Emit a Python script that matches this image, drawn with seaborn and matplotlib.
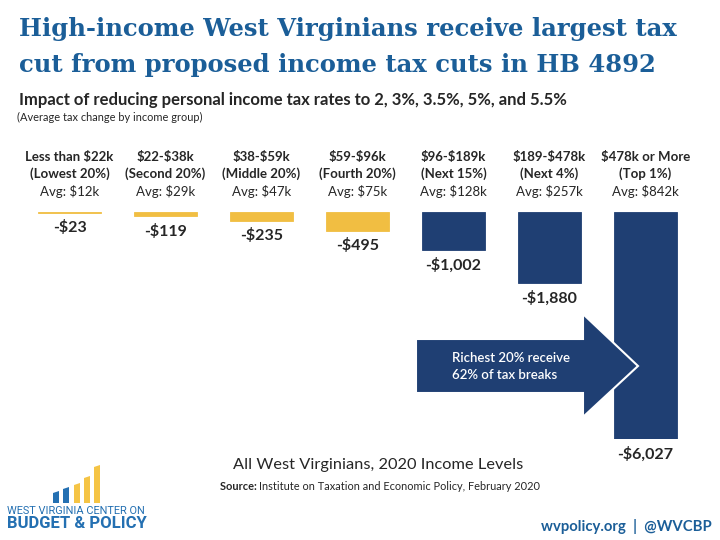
import matplotlib
matplotlib.use("Agg")
import matplotlib.pyplot as plt
from matplotlib.patches import Polygon
import pandas as pd
import seaborn as sns

# Dữ liệu
ranges = ["Less than $22k", "$22-$38k", "$38-$59k", "$59-$96k",
          "$96-$189k", "$189-$478k", "$478k or More"]
groups = ["(Lowest 20%)", "(Second 20%)", "(Middle 20%)", "(Fourth 20%)",
          "(Next 15%)", "(Next 4%)", "(Top 1%)"]
avgs = ["Avg: $12k", "Avg: $29k", "Avg: $47k", "Avg: $75k",
        "Avg: $128k", "Avg: $257k", "Avg: $842k"]
changes = [-23, -119, -235, -495, -1002, -1880, -6027]
colors = ["#F1BE42"] * 4 + ["#1F3F73"] * 3

df = pd.DataFrame({"group": ranges, "change": changes})

W, H = 720, 540
TITLE_BLUE = "#1B5E98"
LOGO_BLUE = "#2470B2"
LOGO_YELLOW = "#F5C445"

sns.set_style("white")
plt.rcParams["font.family"] = ["Lato", "DejaVu Sans"]

fig = plt.figure(figsize=(7.2, 5.4), dpi=100)
fig.patch.set_facecolor("white")


def fx(px):
    return px / W


def fy(py):
    return 1 - py / H


# trục chính: 0 ở pixel 212, -6027 ở pixel 439
top_px, bot_px = 212, 439
ax = fig.add_axes([fx(21.5), fy(bot_px), 672 / W, (bot_px - top_px) / H])
sns.barplot(data=df, x="group", y="change", hue="group", palette=colors,
            legend=False, width=0.66, saturation=1, ax=ax)
# viền cùng màu để cột -23 vẫn hiện thành một vạch mảnh
for p, c in zip(ax.patches, colors):
    p.set_edgecolor(c)
    p.set_linewidth(0.6)
ax.set_xlim(-0.5, 6.5)
ax.set_ylim(min(changes), 0)
ax.axis("off")

for i in range(len(ranges)):
    ax.annotate(ranges[i], (i, 0), xytext=(0, 55), textcoords="offset pixels",
                ha="center", va="center", fontsize=9.5, fontweight="bold",
                parse_math=False)
    ax.annotate(groups[i], (i, 0), xytext=(0, 38), textcoords="offset pixels",
                ha="center", va="center", fontsize=9.5, fontweight="bold",
                parse_math=False)
    ax.annotate(avgs[i], (i, 0), xytext=(0, 21), textcoords="offset pixels",
                ha="center", va="center", fontsize=9.5, parse_math=False)
    lab = "-${:,}".format(abs(changes[i]))
    ax.annotate(lab, (i, changes[i]), xytext=(0, -15), textcoords="offset pixels",
                ha="center", va="center", fontsize=11.5, fontweight="bold",
                annotation_clip=False, parse_math=False)

# tiêu đề
fig.text(fx(19), fy(36), "High-income West Virginians receive largest tax",
         family="DejaVu Serif", fontweight="bold", fontsize=17.5,
         color=TITLE_BLUE, va="baseline")
fig.text(fx(19), fy(72), "cut from proposed income tax cuts in HB 4892",
         family="DejaVu Serif", fontweight="bold", fontsize=17.5,
         color=TITLE_BLUE, va="baseline")
fig.text(fx(19), fy(105),
         "Impact of reducing personal income tax rates to 2, 3%, 3.5%, 5%, and 5.5%",
         fontsize=12, fontweight="bold", va="baseline")
fig.text(fx(17), fy(117), "(Average tax change by income group)",
         fontsize=7.9, va="center")

# lớp phủ theo pixel cho mũi tên và logo
ov = fig.add_axes([0, 0, 1, 1], zorder=3)
ov.set_xlim(0, W)
ov.set_ylim(H, 0)
ov.axis("off")
ov.patch.set_alpha(0)

arrow = [(416, 339), (583, 339), (583, 314), (638, 366),
         (583, 417), (583, 393), (416, 393)]
ov.add_patch(Polygon(arrow, closed=True, facecolor="#1F3F73",
                     edgecolor="white", linewidth=1.5))
ov.text(452, 358, "Richest 20% receive", color="white", fontsize=9.5,
        fontweight="semibold", va="center")
ov.text(452, 375, "62% of tax breaks", color="white", fontsize=9.5,
        fontweight="semibold", va="center")

# footer
ov.text(378, 465, "All West Virginians, 2020 Income Levels", fontsize=11.8,
        ha="center", va="center")
r = fig.canvas.get_renderer()
t1 = ov.text(0, 486, "Source: ", fontsize=7.9, fontweight="bold", va="center")
t2 = ov.text(0, 486, "Institute on Taxation and Economic Policy, February 2020",
             fontsize=7.9, va="center")
w1 = t1.get_window_extent(r).width
w2 = t2.get_window_extent(r).width
x0 = 380 - (w1 + w2) / 2
t1.set_x(x0)
t2.set_x(x0 + w1)

ov.text(712, 527, "wvpolicy.org  |  @WVCBP", fontsize=10.7, fontweight="bold",
        color=TITLE_BLUE, ha="right", va="center")

# logo: các vạch có đầu vát
logo_bars = [(53, 491, LOGO_BLUE), (63, 487, LOGO_BLUE), (74, 483, LOGO_YELLOW),
             (84, 476, LOGO_YELLOW), (94, 465, LOGO_YELLOW)]
for bx, btop, bc in logo_bars:
    ov.add_patch(Polygon([(bx, 503), (bx, btop + 2), (bx + 6, btop),
                          (bx + 6, 503)], closed=True, facecolor=bc,
                         edgecolor="none"))
ov.text(7, 511, "WEST VIRGINIA CENTER ON", fontsize=7.9, color=LOGO_BLUE,
        va="center", family=["Roboto", "DejaVu Sans"])
ov.text(7, 523, "BUDGET & POLICY", fontsize=12, fontweight="bold",
        color=LOGO_BLUE, va="center", family=["Roboto", "DejaVu Sans"])

fig.savefig("out.png", dpi=100, facecolor="white")
